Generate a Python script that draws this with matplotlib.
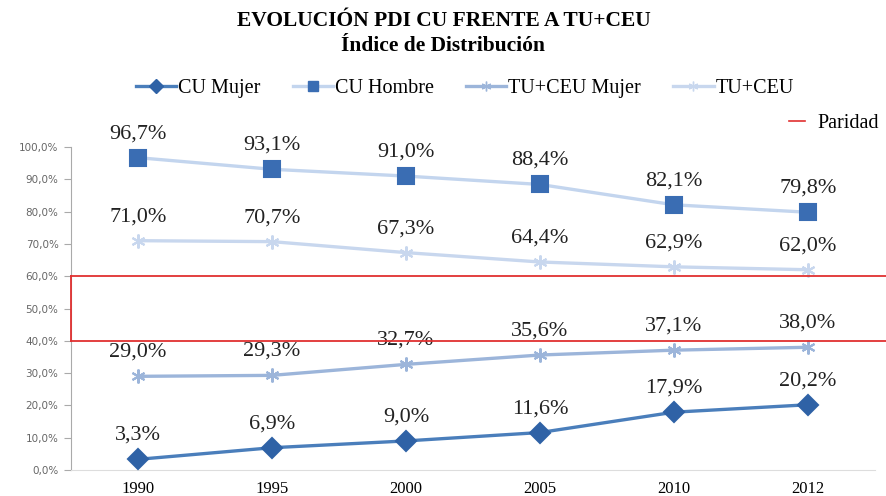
import numpy as np
import matplotlib.pyplot as plt
from matplotlib.lines import Line2D

# Data
years = ["1990", "1995", "2000", "2005", "2010", "2012"]
cu_mujer = [3.3, 6.9, 9.0, 11.6, 17.9, 20.2]
cu_hombre = [96.7, 93.1, 91.0, 88.4, 82.1, 79.8]
tuceu_mujer = [29.0, 29.3, 32.7, 35.6, 37.1, 38.0]
tuceu = [71.0, 70.7, 67.3, 64.4, 62.9, 62.0]
paridad = (40.0, 60.0)

plt.rcParams['font.family'] = ['Liberation Serif', 'DejaVu Serif']

W, H = 887, 496
fig = plt.figure(figsize=(W / 100, H / 100), dpi=100)
ax = fig.add_axes([71 / W, (H - 470) / H, (875 - 71) / W, (470 - 147) / H])

x = np.arange(len(years))
star = (6, 2, 0)

series = [
  ("CU Mujer", cu_mujer, "#4a7ebb", "D", "#2f62a6", 10),
  ("CU Hombre", cu_hombre, "#c3d5ee", "s", "#3a6db3", 11),
  ("TU+CEU Mujer", tuceu_mujer, "#9cb5da", star, "#9cb5da", 10),
  ("TU+CEU", tuceu, "#c8d7ee", star, "#c8d7ee", 10),
]

for (name, vals, lc, mk, mc, ms) in series:
  ax.plot(x, vals, color=lc, lw=2.4, marker=mk, markersize=ms,
          markerfacecolor=mc, markeredgecolor=mc, markeredgewidth=1.5,
          zorder=3)
  for xi, v in zip(x, vals):
    ax.annotate(("%.1f%%" % v).replace(".", ","), (xi, v), xytext=(0, 14),
                textcoords="offset points", ha="center", va="baseline",
                fontsize=16, color="#222222")

ax.set_xlim(-0.5, len(years) - 0.5)
ax.set_ylim(0, 100)
ax.set_xticks(x)
ax.set_xticklabels(years, fontsize=12)
ax.set_yticks(np.arange(0, 101, 10))
ax.set_yticklabels([("%.1f%%" % v).replace(".", ",") for v in range(0, 101, 10)],
                   fontsize=7.5, color="#666666", family="DejaVu Sans")
ax.tick_params(axis="x", length=0, pad=8)
ax.tick_params(axis="y", length=5, color="#aaaaaa", direction="out", pad=4)
for s in ["top", "right"]:
  ax.spines[s].set_visible(False)
ax.spines["left"].set_color("#aaaaaa")
ax.spines["bottom"].set_color("#dddddd")

# Paridad band: red lines running out to the figure edge, closed on the left
trans = ax.get_yaxis_transform()
for y in paridad:
  ax.plot([0, 1.02], [y, y], color="#e03030", lw=1.3, transform=trans,
          clip_on=False, zorder=4)
ax.plot([0, 0], list(paridad), color="#e03030", lw=1.3, transform=trans,
        clip_on=False, zorder=4)

fig.text(0.5, 1 - 21 / H, "EVOLUCIÓN PDI CU FRENTE A TU+CEU", ha="center",
         va="center", fontsize=15.5, fontweight="bold")
fig.text(0.5, 1 - 46 / H, "Índice de Distribución", ha="center", va="center",
         fontsize=15.5, fontweight="bold")

# legend handles: small markers like the original
leg_handles = []
for (name, vals, lc, mk, mc, ms) in series:
  leg_handles.append(Line2D([], [], color=lc, lw=2.4, marker=mk,
                            markersize=ms * 0.7, markerfacecolor=mc,
                            markeredgecolor=mc, label=name))
fig.legend(handles=leg_handles, loc="center", bbox_to_anchor=(0.524, 1 - 88 / H),
           ncol=4, frameon=False, fontsize=14.5, handlelength=2.0,
           columnspacing=1.6, handletextpad=0.1)
par = Line2D([], [], color="#e03030", lw=1.2)
fig.legend(handles=[par], labels=["Paridad"], loc="center",
           bbox_to_anchor=(0.94, 1 - 123 / H), frameon=False, fontsize=14.5,
           handlelength=0.8, handletextpad=0.6)

fig.savefig("out.png", dpi=100)
